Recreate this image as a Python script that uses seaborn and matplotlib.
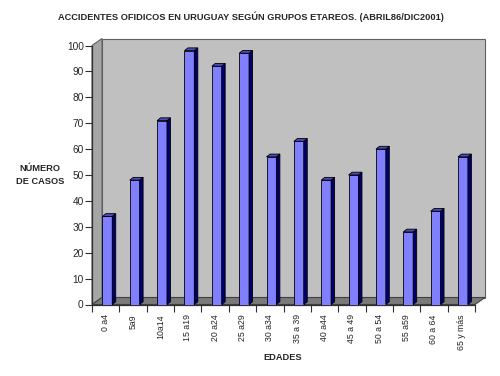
import matplotlib
matplotlib.use("Agg")
import matplotlib.pyplot as plt
import seaborn as sns
import pandas as pd
from matplotlib.patches import Polygon

categories = ["0 a4", "5a9", "10a14", "15 a19", "20 a24", "25 a29", "30 a34",
              "35 a 39", "40 a44", "45 a 49", "50 a 54", "55 a59", "60 a 64", "65 y más"]
casos = [34, 48, 71, 98, 92, 97, 57, 63, 48, 50, 60, 28, 36, 57]
yticks = [0, 10, 20, 30, 40, 50, 60, 70, 80, 90, 100]

title = "ACCIDENTES OFIDICOS EN URUGUAY SEGÚN GRUPOS ETAREOS. (ABRIL86/DIC2001)"
ylabel = "NÚMERO\nDE CASOS"
xlabel = "EDADES"

sns.set_theme(style="white")
plt.rcParams['font.family'] = ['Liberation Sans', 'DejaVu Sans']

W, H = 500, 376
fig = plt.figure(figsize=(W / 100, H / 100), dpi=100)
fig.patch.set_facecolor("white")
ax_l, ax_r = 92, 475
ax_top, ax_bot = 45.5, 304.5
ax = fig.add_axes([ax_l / W, (H - ax_bot) / H, (ax_r - ax_l) / W, (ax_bot - ax_top) / H])
ax.set_facecolor("none")

df = pd.DataFrame({"edad": categories, "casos": casos})
n = len(categories)
ax.set_xlim(-0.5, n - 0.5)
ax.set_ylim(0, 100)

# pixel -> data conversions
px_x = n / (ax_r - ax_l)
px_y = 100 / (ax_bot - ax_top)

# wall depth offsets
wdx, wdy = 10 * px_x, 7 * px_y
x0, x1 = -0.5, n - 0.5
# back wall
ax.add_patch(Polygon([(x0 + wdx, wdy), (x1 + wdx, wdy), (x1 + wdx, 100 + wdy), (x0 + wdx, 100 + wdy)],
                     closed=True, facecolor="#c0c0c0", edgecolor="#606060", lw=0.8, clip_on=False, zorder=0))
# left side wall
ax.add_patch(Polygon([(x0, 0), (x0 + wdx, wdy), (x0 + wdx, 100 + wdy), (x0, 100)],
                     closed=True, facecolor="#a6a6a6", edgecolor="#606060", lw=0.8, clip_on=False, zorder=0))
# floor
ax.add_patch(Polygon([(x0, 0), (x1, 0), (x1 + wdx, wdy), (x0 + wdx, wdy)],
                     closed=True, facecolor="#7a7a7a", edgecolor="#404040", lw=0.8, clip_on=False, zorder=0.5))

bw = 0.36
sns.barplot(data=df, x="edad", y="casos", ax=ax, color="#8080ff", saturation=1,
            width=bw, edgecolor="#000000", linewidth=0.6, zorder=3)

# 3D faces of bars
bdx, bdy = 3.5 * px_x, 2.8 * px_y
for p in ax.patches:
    if not hasattr(p, "get_x") or not hasattr(p, "get_width"):
        continue
    bx, bwid, bh = p.get_x(), p.get_width(), p.get_height()
    if bh <= 0:
        continue
    bx += 0.06
    p.set_x(bx)
    xr = bx + bwid
    ax.add_patch(Polygon([(xr, 0), (xr + bdx, bdy), (xr + bdx, bh + bdy), (xr, bh)], closed=True,
                         facecolor="#00006e", edgecolor="#000000", lw=0.6, zorder=3.5, clip_on=False))
    ax.add_patch(Polygon([(bx, bh), (xr, bh), (xr + bdx, bh + bdy), (bx + bdx, bh + bdy)], closed=True,
                         facecolor="#4a4ab8", edgecolor="#000000", lw=0.6, zorder=3.5, clip_on=False))

for s in ["top", "right"]:
    ax.spines[s].set_visible(False)
for s in ["left", "bottom"]:
    ax.spines[s].set_visible(True)
    ax.spines[s].set_color("#303030")
    ax.spines[s].set_linewidth(0.9)
    ax.spines[s].set_zorder(1)

ax.set_yticks(yticks)
ax.set_yticklabels([str(v) for v in yticks], fontsize=7.3)
ax.tick_params(axis="y", left=True, length=5, width=0.8, color="#303030", pad=1)

ax.set_xticks(range(n))
ax.set_xticklabels(categories, rotation=90, fontsize=6.3)
ax.set_xticks([i - 0.5 for i in range(n + 1)], minor=True)
ax.tick_params(axis="x", which="major", bottom=False, length=0, pad=7)
ax.tick_params(axis="x", which="minor", bottom=True, length=5, width=0.8, color="#303030")

ax.set_xlabel("")
ax.set_ylabel("")
fig.text(251 / W, 1 - 17 / H, title, ha="center", va="center", fontsize=6.7, fontweight="bold")
fig.text(40 / W, 1 - 175 / H, ylabel, ha="center", va="center", fontsize=6.7, fontweight="bold",
         linespacing=1.7)
fig.text(283 / W, 1 - 357 / H, xlabel, ha="center", va="center", fontsize=6.7, fontweight="bold")

fig.savefig("out.png", dpi=100)
